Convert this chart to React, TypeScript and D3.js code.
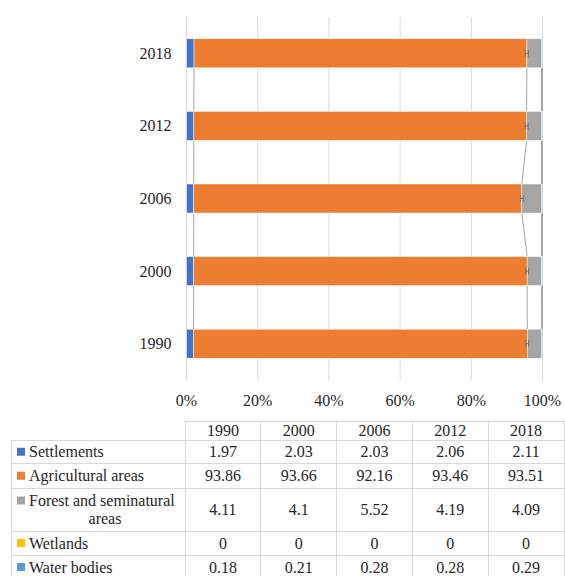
import React from 'react';
import * as d3 from 'd3';

const years = ['1990', '2000', '2006', '2012', '2018'];
const seriesNames = ['Settlements', 'Agricultural areas', 'Forest and seminatural areas', 'Wetlands', 'Water bodies'];
const settlements = [1.97, 2.03, 2.03, 2.06, 2.11];
const agricultural = [93.86, 93.66, 92.16, 93.46, 93.51];
const forest = [4.11, 4.1, 5.52, 4.19, 4.09];
const wetlands = [0, 0, 0, 0, 0];
const waterBodies = [0.18, 0.21, 0.28, 0.28, 0.29];
const seriesColors = ['#4472C4', '#ED7D31', '#A5A5A5', '#FFC000', '#5B9BD5'];
const xTicks = [0, 0.2, 0.4, 0.6, 0.8, 1];

const seriesValues = [settlements, agricultural, forest, wetlands, waterBodies];

const W = 565;
const H = 576;
const FONT = "'Liberation Serif', 'Times New Roman', serif";
const textStyle = { fontFamily: FONT, fontSize: '16px' };

export default function App() {
  const rows = years.map((y, i) => {
    const r: Record<string, any> = { year: y };
    seriesNames.forEach((s, k) => (r[s] = seriesValues[k][i]));
    return r;
  });
  const stack = d3.stack<any>().keys(seriesNames).offset(d3.stackOffsetExpand);
  const stacked = stack(rows);

  const x = d3.scaleLinear().domain([0, 1]).range([186.5, 542.5]);
  const yOrder = [...years].reverse();
  const y = d3.scaleBand<string>().domain(yOrder).range([17, 380]).paddingInner(0.6).paddingOuter(0.3);
  const bw = y.bandwidth();

  const seriesLines: { x1: number; y1: number; x2: number; y2: number }[] = [];
  stacked.forEach((layer) => {
    for (let j = 0; j < yOrder.length - 1; j++) {
      const upperIdx = years.indexOf(yOrder[j]);
      const lowerIdx = years.indexOf(yOrder[j + 1]);
      seriesLines.push({
        x1: x(layer[upperIdx][1]),
        y1: (y(yOrder[j]) as number) + bw,
        x2: x(layer[lowerIdx][1]),
        y2: y(yOrder[j + 1]) as number,
      });
    }
  });

  const col = d3.scaleBand<string>().domain(years).range([185, 564]);
  const tableLeft = 11;
  const rowEdges = [421, 440, 463.5, 488, 531, 555, 579];
  const textDy = 5.5;

  return (
    <svg
      width={W}
      height={H}
      style={{ position: 'absolute', left: 0, top: 0, background: '#fff', fontFamily: FONT }}
    >
      {xTicks.map((t) => (
        <line key={'g' + t} x1={x(t)} x2={x(t)} y1={17} y2={380} stroke="#d9d9d9" strokeWidth={1} />
      ))}
      {seriesLines.map((l, i) => (
        <line key={'sl' + i} x1={l.x1} y1={l.y1} x2={l.x2} y2={l.y2} stroke="#a6a6a6" strokeWidth={1} />
      ))}
      {stacked.map((layer, k) => (
        <g key={'layer' + k} fill={seriesColors[k]}>
          {layer.map((d, i) => (
            <rect
              key={i}
              x={x(d[0])}
              y={y(years[i]) as number}
              width={Math.max(0, x(d[1]) - x(d[0]))}
              height={bw}
              stroke="#ffffff"
              strokeWidth={0.5}
            />
          ))}
        </g>
      ))}
      {stacked[1].map((d, i) => {
        const cx = x(d[1]);
        const cy = (y(years[i]) as number) + bw / 2;
        return (
          <g key={'m' + i} stroke="#6b6b6b" strokeWidth={0.8}>
            <line x1={cx - 1.5} x2={cx - 1.5} y1={cy - 3.5} y2={cy + 3.5} />
            <line x1={cx + 1.5} x2={cx + 1.5} y1={cy - 3.5} y2={cy + 3.5} />
            <line x1={cx - 1.5} x2={cx + 1.5} y1={cy} y2={cy} />
          </g>
        );
      })}
      {years.map((yr) => (
        <text
          key={'yl' + yr}
          x={171.5}
          y={(y(yr) as number) + bw / 2 + textDy}
          textAnchor="end"
          style={textStyle}
          fill="#262626"
        >
          {yr}
        </text>
      ))}
      {xTicks.map((t) => (
        <text key={'xl' + t} x={x(t)} y={406} textAnchor="middle" style={textStyle} fill="#262626">
          {d3.format('.0%')(t)}
        </text>
      ))}

      <g stroke="#d9d9d9" strokeWidth={1} shapeRendering="crispEdges">
        <line x1={185} x2={564} y1={rowEdges[0]} y2={rowEdges[0]} />
        {rowEdges.slice(1).map((ry) => (
          <line key={'h' + ry} x1={tableLeft} x2={564} y1={ry} y2={ry} />
        ))}
        <line x1={tableLeft} x2={tableLeft} y1={rowEdges[1]} y2={rowEdges[rowEdges.length - 1]} />
        {years.map((yr) => (
          <line
            key={'v' + yr}
            x1={col(yr) as number}
            x2={col(yr) as number}
            y1={rowEdges[0]}
            y2={rowEdges[rowEdges.length - 1]}
          />
        ))}
        <line x1={564} x2={564} y1={rowEdges[0]} y2={rowEdges[rowEdges.length - 1]} />
      </g>
      {years.map((yr) => (
        <text
          key={'th' + yr}
          x={(col(yr) as number) + col.bandwidth() / 2}
          y={(rowEdges[0] + rowEdges[1]) / 2 + textDy}
          textAnchor="middle"
          style={textStyle}
          fill="#262626"
        >
          {yr}
        </text>
      ))}
      {seriesNames.map((name, k) => {
        const top = rowEdges[k + 1];
        const bottom = rowEdges[k + 2];
        const cy = (top + bottom) / 2;
        const twoLine = k === 2;
        const labelY = twoLine ? top + 12.5 : cy;
        return (
          <g key={'row' + k}>
            <rect x={17} y={labelY - 4} width={8} height={8} fill={seriesColors[k]} />
            {twoLine ? (
              <>
                <text x={29} y={labelY + textDy} style={textStyle} fill="#262626">
                  Forest and seminatural
                </text>
                <text x={105} y={top + 30.5 + textDy} style={textStyle} fill="#262626" textAnchor="middle">
                  areas
                </text>
              </>
            ) : (
              <text x={29} y={labelY + textDy} style={textStyle} fill="#262626">
                {name}
              </text>
            )}
            {seriesValues[k].map((v, i) => (
              <text
                key={'c' + i}
                x={(col(years[i]) as number) + col.bandwidth() / 2}
                y={cy + textDy}
                textAnchor="middle"
                style={textStyle}
                fill="#262626"
              >
                {String(v)}
              </text>
            ))}
          </g>
        );
      })}
    </svg>
  );
}
